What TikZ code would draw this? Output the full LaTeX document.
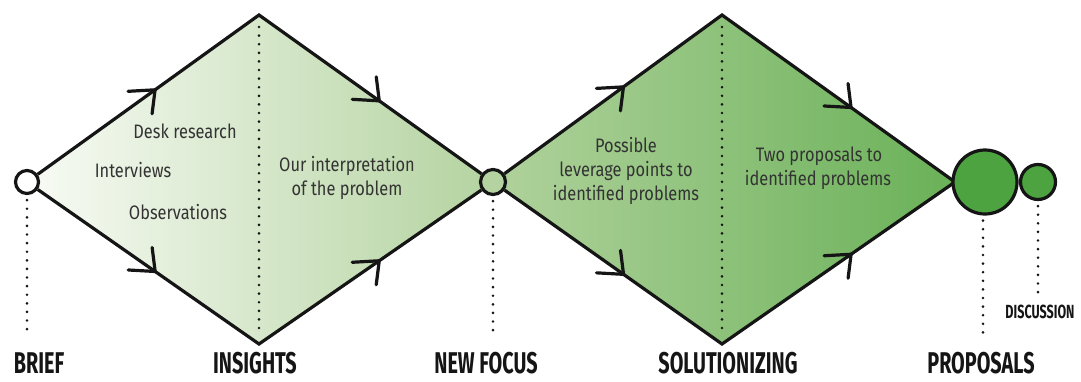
\documentclass[tikz,border=0pt]{standalone}
\usepackage{fontspec}
\setmainfont{Fira Sans}
\newfontfamily\bodyfont[FakeStretch=0.84]{Fira Sans}
\newfontfamily\stagefont[FakeStretch=0.66]{Fira Sans}
\usetikzlibrary{decorations.markings}

\definecolor{ink}{HTML}{151515}
\definecolor{txt}{HTML}{333333}
\definecolor{gA}{HTML}{F8FBF5}
\definecolor{gB}{HTML}{E1EDD8}
\definecolor{gC}{HTML}{B4D3A0}
\definecolor{gD}{HTML}{B0D29C}
\definecolor{gE}{HTML}{96C684}
\definecolor{gF}{HTML}{6AB158}
\definecolor{nfgreen}{HTML}{B5D3A1}
\definecolor{propgreen}{HTML}{4CA340}

\pgfdeclarelayer{background}
\pgfsetlayers{background,main}

% open chevrons with a horizontal and a vertical arm
\newcommand\chevrise{\pgftransformresetnontranslations
  \draw[chev] (-27pt,-1.5pt) -- (0pt,0pt) -- (-3pt,-24pt);}
\newcommand\chevfall{\pgftransformresetnontranslations
  \draw[chev] (-27pt,1.5pt) -- (0pt,0pt) -- (-3pt,24pt);}

\tikzset{
  chev/.style={draw=ink, line width=3.2pt, line cap=round, line join=miter},
  outline/.style={draw=ink, line width=3.2pt, line join=miter},
  upperflow/.style={outline, postaction={decorate},
    decoration={markings,
      mark=at position 0.265 with {\chevrise},
      mark=at position 0.77 with {\chevfall}}},
  lowerflow/.style={outline, postaction={decorate},
    decoration={markings,
      mark=at position 0.265 with {\chevfall},
      mark=at position 0.77 with {\chevrise}}},
  dots/.style={draw=ink, line width=2.9pt, line cap=round,
    dash pattern=on 0pt off 8.6pt},
  stage/.style={circle, draw=ink, line width=3.2pt, inner sep=0pt},
  body/.style={text=txt, anchor=base, inner sep=0pt,
    font=\bodyfont\fontsize{19.5}{24}\selectfont},
  phase/.style={text=ink, anchor=base, inner sep=0pt,
    font=\stagefont\bfseries\fontsize{30}{30}\selectfont},
}

\begin{document}
\begin{tikzpicture}[x=1pt,y=-1pt]
\useasboundingbox (0,0) rectangle (1081,381);

% milestone circles
\node[stage, fill=white, minimum size=23pt] (brief) at (27,182) {};
\node[stage, fill=nfgreen, minimum size=25pt] (nf) at (493,182) {};
\node[stage, fill=propgreen, minimum size=64pt] (prop) at (985,182) {};
\node[stage, fill=propgreen, minimum size=35pt] (disc) at (1038,182) {};

% diamond corners
\coordinate (t1) at (259,15);
\coordinate (b1) at (259,344);
\coordinate (t2) at (722,15);
\coordinate (b2) at (722,344);
\coordinate (tip2) at (955,182);

\begin{pgfonlayer}{background}
  \shade[left color=gA, middle color=gB, right color=gC]
    (brief.center) -- (t1) -- (nf.center) -- (b1) -- cycle;
  \shade[left color=gD, middle color=gE, right color=gF]
    (nf.center) -- (t2) -- (tip2) -- (b2) -- cycle;
  % diverging and converging paths
  \draw[upperflow] (brief) -- (t1) -- (nf);
  \draw[lowerflow] (brief) -- (b1) -- (nf);
  \draw[upperflow] (nf) -- (t2) -- (tip2);
  \draw[lowerflow] (nf) -- (b2) -- (tip2);
\end{pgfonlayer}

% dotted guides
\coordinate (briefend) at (27,335);
\coordinate (instop) at (259,27);
\coordinate (insbot) at (259,334);
\coordinate (nfend) at (493,335);
\coordinate (soltop) at (722,27);
\coordinate (solbot) at (722,334);
\coordinate (propend) at (983,335);
\coordinate (discend) at (1038,293);
\draw[dots] ([yshift=-5pt]brief.south) -- (briefend);
\draw[dots] (instop) -- (insbot);
\draw[dots] ([yshift=-5pt]nf.south) -- (nfend);
\draw[dots] (soltop) -- (solbot);
\draw[dots] ([xshift=-2pt,yshift=-5pt]prop.south) -- (propend);
\draw[dots] ([yshift=-5pt]disc.south) -- (discend);

% activity texts
\node[body] (desk) at (185,138) {Desk research};
\node[body] (interv) at (133,177) {Interviews};
\node[body] (observ) at (178,219) {Observations};
\node[body] (interp1) at (347,171) {Our interpretation};
\node[body] (interp2) at (347,195) {of the problem};
\node[body] (lev1) at (626,152) {Possible};
\node[body] (lev2) at (626,176) {leverage points to};
\node[body] (lev3) at (626,200) {identified problems};
\node[body] (two1) at (819,161) {Two proposals to};
\node[body] (two2) at (818,185) {identified problems};

% phase labels
\node[phase] (lbrief) at (39,373) {BRIEF};
\node[phase] (lins) at (255,373) {INSIGHTS};
\node[phase] (lnf) at (486,373) {NEW FOCUS};
\node[phase] (lsol) at (728,373) {SOLUTIONIZING};
\node[phase] (lprop) at (981,373) {PROPOSALS};
\node[phase, font=\stagefont\bfseries\fontsize{19}{19}\selectfont]
  (ldisc) at (1040,318) {DISCUSSION};
\end{tikzpicture}
\end{document}
